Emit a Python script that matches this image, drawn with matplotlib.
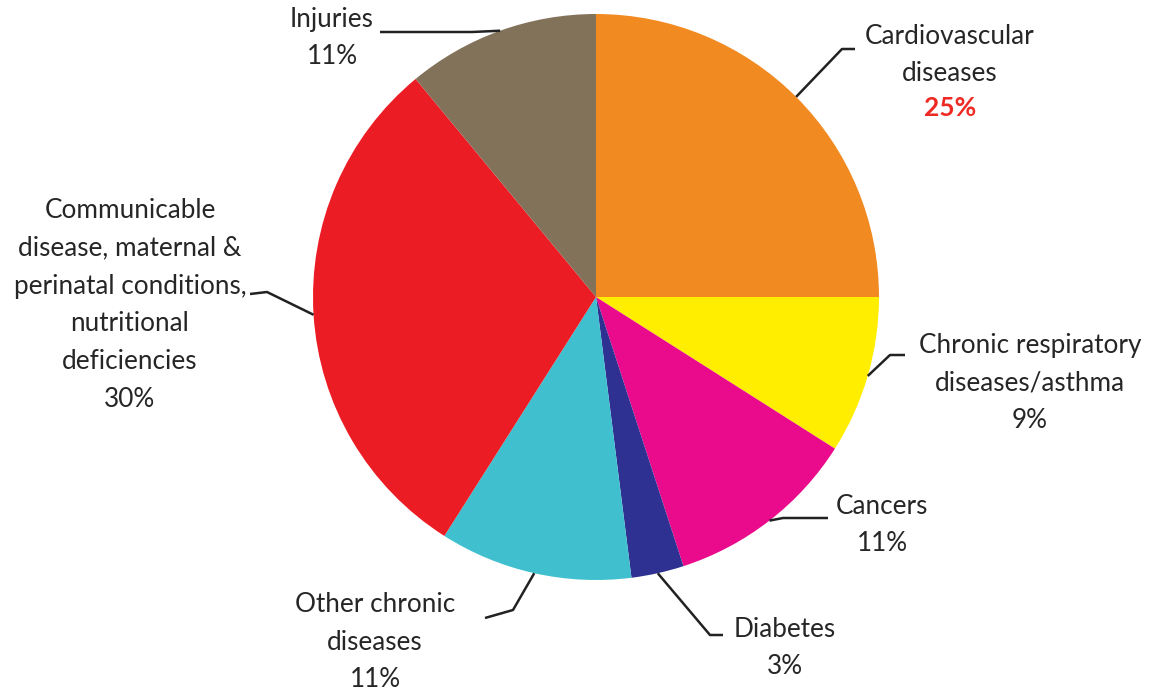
import numpy as np
import matplotlib
matplotlib.use("Agg")
import matplotlib.pyplot as plt

W, H = 1157, 694

labels = ["Cardiovascular\ndiseases", "Chronic respiratory\ndiseases/asthma", "Cancers",
          "Diabetes", "Other chronic\ndiseases",
          "Communicable\ndisease, maternal &\nperinatal conditions,\nnutritional\ndeficiencies",
          "Injuries"]
shares = [25, 9, 11, 3, 11, 30, 11]
colors = ["#F18A21", "#FFEE00", "#EA0A8C", "#2E3192", "#40C0CE", "#EC1C24", "#83725A"]

# label layout (pixel coords, y down): elbow point, line end, text centre
elbows = [(842, 49), (890, 355), (783, 518), (710, 635), (513, 610), (267, 292), (472, 32)]
ends = [(855, 49), (905, 355), (828, 518), (723, 635), (485, 618), (250, 294), (380, 32)]
text_pos = [(950, 55), (1030, 383), (882, 525), (785, 648), (375, 642), (130, 305), (332, 38)]

plt.rcParams['font.family'] = ['Lato', 'DejaVu Sans']

fig = plt.figure(figsize=(W / 100, H / 100), dpi=100)
ax = fig.add_axes([0, 0, 1, 1])

cx, cy, r = 596, H - 297, 283
wedges, _ = ax.pie(shares, colors=colors, startangle=90, counterclock=False,
                   center=(cx, cy), radius=r, frame=True,
                   wedgeprops=dict(linewidth=0))
ax.set_xlim(0, W)
ax.set_ylim(0, H)
ax.set_aspect('equal')
ax.axis('off')

fs = 18.8
for i, w in enumerate(wedges):
    ang = np.deg2rad((w.theta1 + w.theta2) / 2)
    ax0 = cx + r * np.cos(ang)
    ay0 = cy + r * np.sin(ang)
    ex, ey = elbows[i]
    fx, fy = ends[i]
    ax.plot([ax0, ex, fx], [ay0, H - ey, H - fy], color='#222222', lw=1.8,
            solid_capstyle='butt')
    tx, ty = text_pos[i]
    if i == 0:
        ax.text(tx, H - ty, labels[i], ha='center', va='center', fontsize=fs,
                color='#262626', linespacing=1.64)
        ax.text(tx, H - 108, "%d%%" % shares[i], ha='center', va='center',
                fontsize=19, color='#EE2A24', fontweight='bold')
    else:
        ax.text(tx, H - ty, labels[i] + "\n%d%%" % shares[i], ha='center',
                va='center', fontsize=fs, color='#262626', linespacing=1.64)

fig.savefig("out.png", dpi=100, facecolor='white')
